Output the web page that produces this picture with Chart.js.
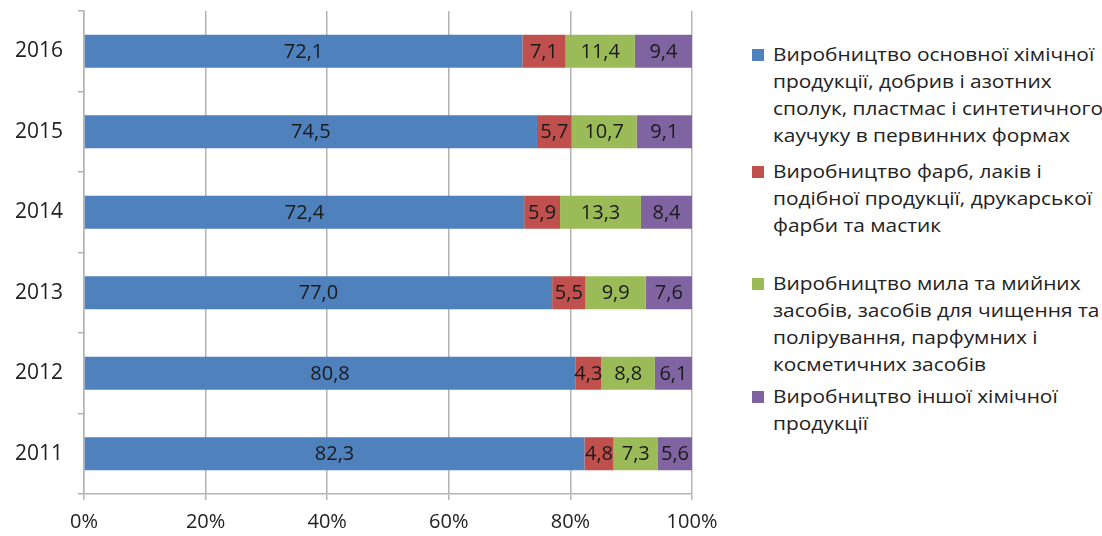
<!DOCTYPE html>
<html lang="uk">
<head>
  <meta charset="UTF-8" />
  <title>Структура хімічного виробництва</title>
  <script src="https://cdn.jsdelivr.net/npm/chart.js"></script>
  <style>
    body {
      margin: 0;
      background: #fff;
      font-family: "Open Sans", sans-serif;
      color: #222;
    }
    .wrap {
      position: relative;
      width: 1102px;
      height: 536px;
    }
    .chart-box {
      position: absolute;
      left: 0;
      top: 0;
      width: 720px;
      height: 536px;
    }
    .legend {
      position: absolute;
      left: 752px;
      top: 0;
      width: 350px;
      font-size: 18px;
      line-height: 27px;
      color: #222;
    }
    .legend-item {
      position: absolute;
      left: 0;
      padding-left: 21px;
      white-space: nowrap;
    }
    .legend-item .txt {
      display: inline-block;
      transform: scaleX(1.16);
      transform-origin: left top;
    }
    .legend-item .sw {
      position: absolute;
      left: 0;
      top: 8px;
      width: 12px;
      height: 12px;
    }
  </style>
</head>
<body>
  <div class="wrap">
    <div class="chart-box"><canvas id="chemChart" width="720" height="536"></canvas></div>
    <div class="legend" id="legend"></div>
  </div>

  <script>
    // data (shares, %)
    const years = ['2016', '2015', '2014', '2013', '2012', '2011'];
    const basicChem = [72.1, 74.5, 72.4, 77.0, 80.8, 82.3];
    const paints = [7.1, 5.7, 5.9, 5.5, 4.3, 4.8];
    const soaps = [11.4, 10.7, 13.3, 9.9, 8.8, 7.3];
    const otherChem = [9.4, 9.1, 8.4, 7.6, 6.1, 5.6];
    const xTicks = ['0%', '20%', '40%', '60%', '80%', '100%'];

    const seriesNames = [
      ['Виробництво основної хімічної', 'продукції, добрив і азотних', 'сполук, пластмас і синтетичного', 'каучуку в первинних формах'],
      ['Виробництво фарб, лаків і', 'подібної продукції, друкарської', 'фарби та мастик'],
      ['Виробництво мила та мийних', 'засобів, засобів для чищення та', 'полірування, парфумних і', 'косметичних засобів'],
      ['Виробництво іншої хімічної', 'продукції']
    ];
    const colors = ['#4f81bd', '#c0504d', '#9bbb59', '#8064a2'];
    const legendTops = [41, 158, 270, 383];

    // legend on the right, built as html so the text can wrap like the original
    const legendEl = document.getElementById('legend');
    seriesNames.forEach((lines, i) => {
      const item = document.createElement('div');
      item.className = 'legend-item';
      item.style.top = legendTops[i] + 'px';
      item.innerHTML = '<span class="sw" style="background:' + colors[i] + '"></span>' +
        '<span class="txt">' + lines.join('<br>') + '</span>';
      legendEl.appendChild(item);
    });

    // value labels inside each segment
    const barLabels = {
      id: 'barLabels',
      afterDatasetsDraw(chart) {
        const ctx = chart.ctx;
        ctx.save();
        ctx.font = '20px "Open Sans", sans-serif';
        ctx.fillStyle = '#1a1a1a';
        ctx.textAlign = 'center';
        ctx.textBaseline = 'middle';
        chart.data.datasets.forEach((ds, i) => {
          const meta = chart.getDatasetMeta(i);
          meta.data.forEach((bar, j) => {
            const cx = (bar.x + bar.base) / 2;
            ctx.fillText(ds.data[j].toFixed(1).replace('.', ','), cx, bar.y + 1);
          });
        });
        ctx.restore();
      }
    };

    const allSeries = [basicChem, paints, soaps, otherChem];

    new Chart(document.getElementById('chemChart'), {
      type: 'bar',
      data: {
        labels: years,
        datasets: allSeries.map((d, i) => ({
          label: seriesNames[i].join(' '),
          data: d,
          backgroundColor: colors[i],
          borderWidth: 0,
          categoryPercentage: 1,
          barPercentage: 0.41
        }))
      },
      options: {
        indexAxis: 'y',
        responsive: false,
        animation: false,
        devicePixelRatio: 1,
        layout: { padding: { top: 11, right: 28, bottom: 0, left: 0 } },
        scales: {
          x: {
            stacked: true,
            min: 0,
            max: 100,
            ticks: {
              stepSize: 20,
              maxRotation: 0,
              color: '#222',
              font: { family: '"Open Sans", sans-serif', size: 20 },
              padding: 10,
              callback: (v, i) => xTicks[i]
            },
            grid: { color: '#b3b3b3', lineWidth: 1.5, tickLength: 6 },
            border: { color: '#b3b3b3', width: 1.5 },
            afterFit(scale) {
              scale.height = 42;
              scale.paddingLeft = 0;
              scale.paddingRight = 0;
            }
          },
          y: {
            stacked: true,
            offset: true,
            ticks: {
              color: '#222',
              font: { family: '"Open Sans", sans-serif', size: 21 },
              padding: 15
            },
            grid: { offset: true, drawOnChartArea: false, color: '#b3b3b3', lineWidth: 1.5, tickLength: 6 },
            border: { color: '#b3b3b3', width: 1.5 },
            afterFit(scale) {
              scale.width = 84;
              scale.paddingTop = 0;
              scale.paddingBottom = 0;
            }
          }
        },
        plugins: {
          legend: { display: false },
          tooltip: { enabled: false }
        }
      },
      plugins: [barLabels]
    });
  </script>
</body>
</html>
